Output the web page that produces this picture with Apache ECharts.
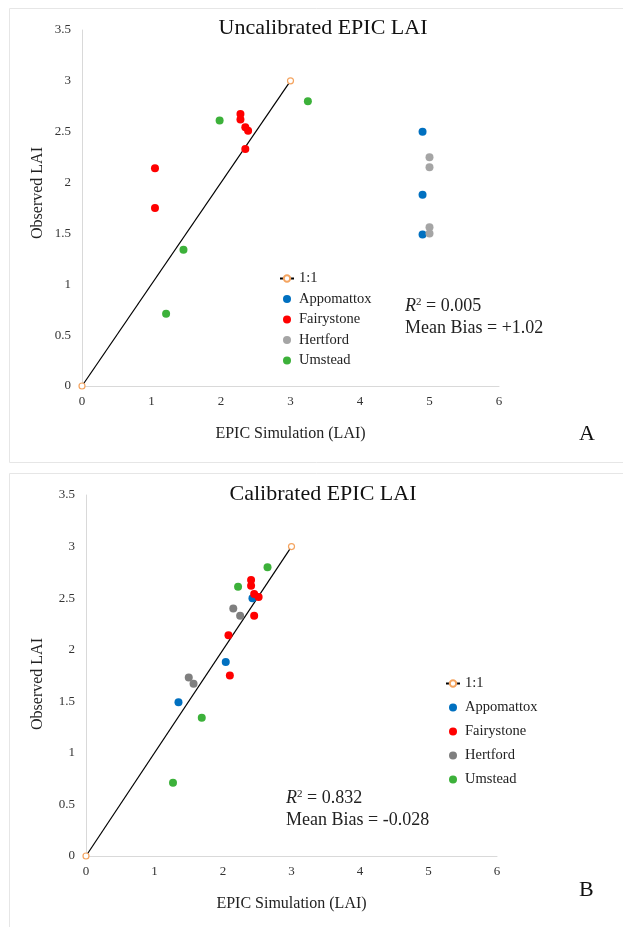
<!DOCTYPE html>
<html>
<head>
<meta charset="utf-8">
<script src="https://cdn.jsdelivr.net/npm/echarts@6/dist/echarts.min.js"></script>
<style>html,body{margin:0;padding:0;background:#fff;}#c{width:623px;height:927px;}</style>
</head>
<body>
<div id="c"></div>
<script>
// ---- Data ----
const seriesNames = ['1:1', 'Appomattox', 'Fairystone', 'Hertford', 'Umstead'];
const oneToOne = [[0, 0], [3, 3]];

// Panel A: uncalibrated [EPIC simulation, observed]
const uncalAppomattox = [[4.90, 2.50], [4.90, 1.88], [4.90, 1.49]];
const uncalFairystone = [[2.28, 2.675], [2.28, 2.62], [2.35, 2.545], [2.39, 2.51], [2.35, 2.33], [1.05, 2.14], [1.05, 1.75]];
const uncalHertford = [[5.0, 2.25], [5.0, 2.15], [5.0, 1.56], [5.0, 1.50]];
const uncalUmstead = [[3.25, 2.80], [1.98, 2.61], [1.46, 1.34], [1.21, 0.71]];

// Panel B: calibrated
const calAppomattox = [[2.43, 2.50], [2.04, 1.88], [1.35, 1.49]];
const calFairystone = [[2.41, 2.675], [2.41, 2.62], [2.455, 2.54], [2.52, 2.51], [2.455, 2.33], [2.08, 2.14], [2.10, 1.75]];
const calHertford = [[2.15, 2.40], [2.25, 2.33], [1.50, 1.73], [1.57, 1.67]];
const calUmstead = [[2.65, 2.80], [2.22, 2.61], [1.69, 1.34], [1.27, 0.71]];

const xTicks = [0, 1, 2, 3, 4, 5, 6];
const yTicks = [0, 0.5, 1, 1.5, 2, 2.5, 3, 3.5];

const titles = ['Uncalibrated EPIC LAI', 'Calibrated EPIC LAI'];
const statsA = { r2: '0.005', bias: '+1.02' };
const statsB = { r2: '0.832', bias: '-0.028' };

// ---- Chart ----
const FONT = '"Liberation Serif", "DejaVu Serif", serif';
const colors = { Appomattox: '#0070c0', Fairystone: '#ff0000', HertfordA: '#a5a5a5', HertfordB: '#7f7f7f', Umstead: '#3cb13a' };

function xAxisCfg(gi) {
  return {
    gridIndex: gi, type: 'value', min: xTicks[0], max: xTicks[xTicks.length - 1], interval: 1,
    name: 'EPIC Simulation (LAI)', nameLocation: 'middle', nameGap: 40,
    nameTextStyle: { fontFamily: FONT, fontSize: 16, color: '#222' },
    axisLine: { show: true, lineStyle: { color: '#d9d9d9', width: 1 } },
    axisTick: { show: false }, splitLine: { show: false },
    axisLabel: { fontFamily: FONT, fontSize: 13, color: '#333', margin: 9 }
  };
}
function yAxisCfg(gi) {
  return {
    gridIndex: gi, type: 'value', min: yTicks[0], max: yTicks[yTicks.length - 1], interval: 0.5,
    axisLine: { show: true, lineStyle: { color: '#d9d9d9', width: 1 } },
    axisTick: { show: false }, splitLine: { show: false },
    axisLabel: { fontFamily: FONT, fontSize: 13, color: '#333', margin: 11 }
  };
}
function lineSeries(gi) {
  return {
    name: '1:1', type: 'line', xAxisIndex: gi, yAxisIndex: gi, data: oneToOne,
    lineStyle: { color: '#000', width: 1.2 }, symbol: 'circle', symbolSize: 6, showSymbol: true,
    itemStyle: { color: '#ffffff', borderColor: '#f4a460', borderWidth: 1.2 }, z: 1, silent: true
  };
}
function scatter(gi, name, data, color) {
  return { name: name, type: 'scatter', xAxisIndex: gi, yAxisIndex: gi, data: data, symbolSize: 8,
    itemStyle: { color: color, opacity: 1 }, z: 3 };
}
function stat(left, top, s) {
  return {
    type: 'text', left: left, top: top, z: 10,
    style: {
      text: '{i|R}{s|2}{n| = ' + s.r2 + '}\n{n|Mean Bias = ' + s.bias + '}',
      rich: {
        i: { fontFamily: FONT, fontSize: 18, fontStyle: 'italic', fill: '#222', lineHeight: 22 },
        s: { fontFamily: FONT, fontSize: 11, fill: '#222', padding: [0, 0, 8, 0], lineHeight: 22 },
        n: { fontFamily: FONT, fontSize: 18, fill: '#222', lineHeight: 22 }
      }
    }
  };
}
function yName(x, y) {
  return { type: 'text', x: x, y: y, rotation: Math.PI / 2,
    style: { text: 'Observed LAI', fontFamily: FONT, fontSize: 16, fill: '#222', align: 'center', verticalAlign: 'middle' } };
}
function titleText(t, y) {
  return { type: 'text', x: 323, y: y,
    style: { text: t, fontFamily: FONT, fontSize: 22, fill: '#111', align: 'center', verticalAlign: 'middle' } };
}
function legendCfg(left, top, gap, hColor) {
  return {
    show: true, orient: 'vertical', left: left, top: top, itemGap: gap, itemWidth: 14, itemHeight: 8,
    textStyle: { fontFamily: FONT, fontSize: 14.5, color: '#222' },
    data: seriesNames.map(function (n) {
      if (n === '1:1') return { name: n };
      if (n === 'Hertford') return { name: n, icon: 'circle', itemStyle: { color: hColor } };
      return { name: n, icon: 'circle' };
    }),
    selectedMode: false
  };
}

const chart = echarts.init(document.getElementById('c'), null, { renderer: 'canvas' });
chart.setOption({
  animation: false,
  backgroundColor: '#ffffff',
  grid: [
    { left: 82, top: 30, width: 417, height: 356 },
    { left: 86, top: 495, width: 411, height: 361 }
  ],
  xAxis: [xAxisCfg(0), xAxisCfg(1)],
  yAxis: [yAxisCfg(0), yAxisCfg(1)],
  legend: [
    legendCfg(274, 266, 5.5, colors.HertfordA),
    legendCfg(440, 671, 9, colors.HertfordB)
  ],
  series: [
    lineSeries(0),
    scatter(0, 'Appomattox', uncalAppomattox, colors.Appomattox),
    scatter(0, 'Fairystone', uncalFairystone, colors.Fairystone),
    scatter(0, 'Hertford', uncalHertford, colors.HertfordA),
    scatter(0, 'Umstead', uncalUmstead, colors.Umstead),
    lineSeries(1),
    scatter(1, 'Appomattox', calAppomattox, colors.Appomattox),
    scatter(1, 'Fairystone', calFairystone, colors.Fairystone),
    scatter(1, 'Hertford', calHertford, colors.HertfordB),
    scatter(1, 'Umstead', calUmstead, colors.Umstead)
  ],
  graphic: [
    { type: 'rect', shape: { x: 9.5, y: 8.5, width: 620, height: 454 }, style: { fill: 'none', stroke: '#e6e6e6', lineWidth: 1 }, z: -1, silent: true },
    { type: 'rect', shape: { x: 9.5, y: 473.5, width: 620, height: 460 }, style: { fill: 'none', stroke: '#e6e6e6', lineWidth: 1 }, z: -1, silent: true },
    titleText(titles[0], 28),
    titleText(titles[1], 494),
    yName(38, 193),
    yName(38, 684),
    stat(405, 297, statsA),
    stat(286, 789, statsB),
    { type: 'text', left: 579, top: 423, style: { text: 'A', fontFamily: FONT, fontSize: 22, fill: '#111' } },
    { type: 'text', left: 579, top: 879, style: { text: 'B', fontFamily: FONT, fontSize: 22, fill: '#111' } }
  ]
});
</script>
</body>
</html>
